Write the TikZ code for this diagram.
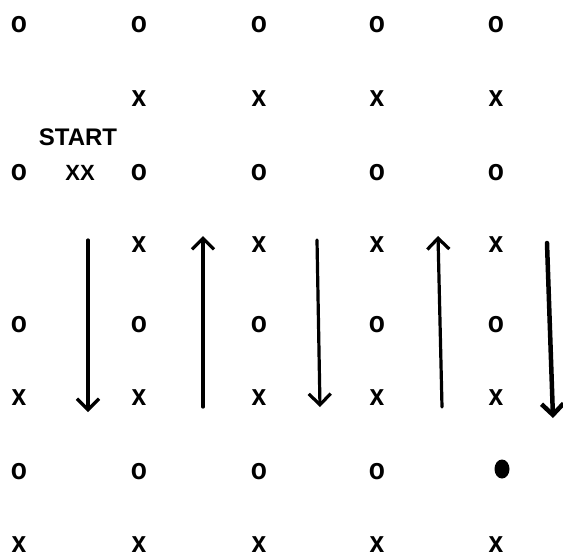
\documentclass[tikz,border=0pt]{standalone}
\usepackage{fontspec}
\setmainfont{Liberation Sans}
\usetikzlibrary{arrows.meta,shapes.geometric}

\begin{document}
\begin{tikzpicture}[
    x=1pt, y=-1pt,
    sym/.style={inner sep=0pt, xscale=0.88, transform shape, font=\fontsize{30}{30}\selectfont\bfseries},
    tag/.style={inner sep=0pt, font=\fontsize{24}{24}\selectfont\bfseries},
    dot/.style={ellipse, fill, minimum width=15pt, minimum height=19pt, inner sep=0pt},
    pass/.style={-{Straight Barb[length=11pt,width=22pt]}, line width=3.2pt, line cap=round}
]
    \useasboundingbox (0,0) rectangle (563,558);

    % Linha 1
    \node[sym] (o11) at (19,25) {o};
    \node[sym] (o12) at (139,25) {o};
    \node[sym] (o13) at (259,25) {o};
    \node[sym] (o14) at (377,25) {o};
    \node[sym] (o15) at (496,25) {o};

    % Linha 2
    \node[sym] (x22) at (139,99) {x};
    \node[sym] (x23) at (259,99) {x};
    \node[sym] (x24) at (377,99) {x};
    \node[sym] (x25) at (496,99) {x};

    % Linha 3 com o inicio
    \node[tag] (start) at (78,137) {START};
    \node[sym] (o31) at (19,173) {o};
    \node[tag, font=\fontsize{22}{22}\selectfont\bfseries] (xx) at (80,173) {XX};
    \node[sym] (o32) at (139,173) {o};
    \node[sym] (o33) at (259,173) {o};
    \node[sym] (o34) at (377,173) {o};
    \node[sym] (o35) at (496,173) {o};

    % Linha 4
    \node[sym] (x42) at (139,245) {x};
    \node[sym] (x43) at (259,245) {x};
    \node[sym] (x44) at (377,245) {x};
    \node[sym] (x45) at (496,245) {x};

    % Linha 5
    \node[sym] (o51) at (19,325) {o};
    \node[sym] (o52) at (139,325) {o};
    \node[sym] (o53) at (259,325) {o};
    \node[sym] (o54) at (377,325) {o};
    \node[sym] (o55) at (496,325) {o};

    % Linha 6
    \node[sym] (x61) at (19,398) {x};
    \node[sym] (x62) at (139,398) {x};
    \node[sym] (x63) at (259,398) {x};
    \node[sym] (x64) at (377,398) {x};
    \node[sym] (x65) at (496,398) {x};

    % Linha 7
    \node[sym] (o71) at (19,472) {o};
    \node[sym] (o72) at (139,472) {o};
    \node[sym] (o73) at (259,472) {o};
    \node[sym] (o74) at (377,472) {o};
    \node[dot] (d75) at (502,469) {};

    % Linha 8
    \node[sym] (x81) at (19,545) {x};
    \node[sym] (x82) at (139,545) {x};
    \node[sym] (x83) at (259,545) {x};
    \node[sym] (x84) at (377,545) {x};
    \node[sym] (x85) at (496,545) {x};

    % Pontas das setas
    \coordinate (s1a) at (88,240);
    \coordinate (s1b) at (88,412);
    \coordinate (s2a) at (203,407);
    \coordinate (s2b) at (203,236);
    \coordinate (s3a) at (317,240);
    \coordinate (s3b) at (320,407);
    \coordinate (s4a) at (442,407);
    \coordinate (s4b) at (438,236);
    \coordinate (s5a) at (547,243);
    \coordinate (s5b) at (553,418);

    % Setas do percurso
    \draw[pass] (s1a) -- (s1b);
    \draw[pass] (s2a) -- (s2b);
    \draw[pass] (s3a) -- (s3b);
    \draw[pass] (s4a) -- (s4b);
    \draw[pass, line width=4.5pt] (s5a) -- (s5b);

\end{tikzpicture}
\end{document}
